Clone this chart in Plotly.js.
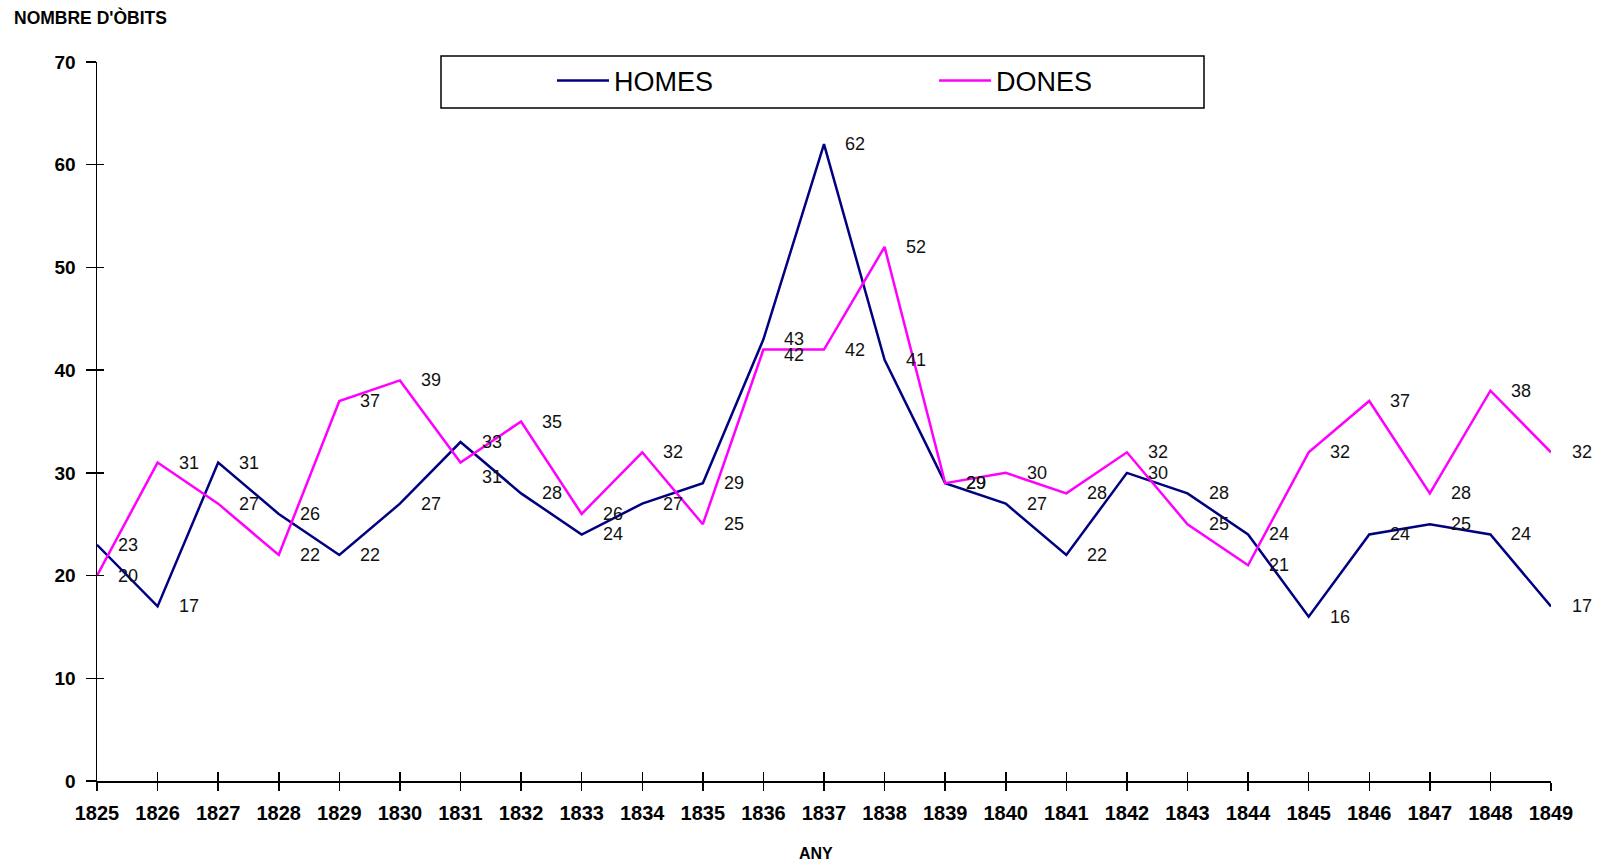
<!DOCTYPE html>
<html>
<head>
<meta charset="utf-8">
<script src="https://cdn.plot.ly/plotly-3.0.1.min.js"></script>
<style>html,body{margin:0;padding:0;background:#fff;}#chart{width:1600px;height:865px;}</style>
</head>
<body>
<div id="chart"></div>
<script>
const years = [1825,1826,1827,1828,1829,1830,1831,1832,1833,1834,1835,1836,1837,1838,1839,1840,1841,1842,1843,1844,1845,1846,1847,1848,1849];
const homes = [23,17,31,26,22,27,33,28,24,27,29,43,62,41,29,27,22,30,28,24,16,24,25,24,17];
const dones = [20,31,27,22,37,39,31,35,26,32,25,42,42,52,29,30,28,32,25,21,32,37,28,38,32];
const yTicks = [0,10,20,30,40,50,60,70];
const chartTitle = "NOMBRE D'ÒBITS";
const xTitle = "ANY";

const FONT = "Liberation Sans, Arial, Helvetica, sans-serif";
const L = 97, R = 49, T = 62, B = 84;
const W = 1600 - L - R, H = 865 - T - B;

const traces = [
  {x: years, y: homes, name: 'HOMES', type: 'scatter', mode: 'lines',
   line: {color: '#000080', width: 2.5}, xaxis: 'x', yaxis: 'y'},
  {x: years, y: dones, name: 'DONES', type: 'scatter', mode: 'lines',
   line: {color: '#FF00FF', width: 2.5}, xaxis: 'x2', yaxis: 'y2'}
];

const nudge = {'DONES-1831': -14, 'DONES-1836': -5};
const annotations = [];
[['HOMES', homes], ['DONES', dones]].forEach(([nm, arr]) => {
  arr.forEach((v, i) => {
    annotations.push({x: years[i], y: v, xref: 'x', yref: 'y', text: String(v),
      showarrow: false, xanchor: 'left', yanchor: 'middle', xshift: 19,
      yshift: nudge[nm + '-' + years[i]] || 0,
      font: {family: FONT, size: 18, color: '#111'}});
  });
});
annotations.push({xref: 'paper', yref: 'paper', x: (816 - L) / W, y: -(853 - (865 - B)) / H,
  text: '<b>' + xTitle + '</b>', showarrow: false, xanchor: 'center', yanchor: 'middle',
  font: {family: FONT, size: 16, color: '#000'}});

const axisCommon = {range: [1825, 1849], dtick: 1, tick0: 1825, tickangle: 0, zeroline: false, showgrid: false, fixedrange: true};

const layout = {
  width: 1600, height: 865,
  margin: {l: L, r: R, t: T, b: B, pad: 0},
  paper_bgcolor: '#fff', plot_bgcolor: '#fff',
  showlegend: true,
  title: {text: '<b>' + chartTitle + '</b>', x: 14 / 1600, xanchor: 'left', xref: 'container',
    y: 1 - 18 / 865, yanchor: 'middle', yref: 'container',
    font: {family: FONT, size: 17.5, color: '#000'}},
  xaxis: Object.assign({}, axisCommon, {
    showline: true, linecolor: '#000', linewidth: 1.5,
    ticks: 'outside', ticklen: 8, tickwidth: 1.5, tickcolor: '#000',
    ticklabelstandoff: 5,
    tickfont: {family: FONT, size: 20, color: '#000', weight: 'bold'}
  }),
  xaxis2: Object.assign({}, axisCommon, {
    overlaying: 'x', anchor: 'y2', showline: false,
    ticks: 'inside', ticklen: 9, tickwidth: 1.5, tickcolor: '#000', showticklabels: false
  }),
  yaxis: {range: [0, 70], tickvals: yTicks, zeroline: false, showgrid: false, fixedrange: true,
    showline: true, linecolor: '#000', linewidth: 1.5,
    ticks: 'outside', ticklen: 10, tickwidth: 1.5, tickcolor: '#000',
    ticklabelstandoff: 6,
    tickfont: {family: FONT, size: 19, color: '#000', weight: 'bold'}},
  yaxis2: {range: [0, 70], tickvals: yTicks, zeroline: false, showgrid: false, fixedrange: true,
    overlaying: 'y', anchor: 'x2', side: 'left', showline: false,
    ticks: 'inside', ticklen: 7, tickwidth: 1.5, tickcolor: '#000', showticklabels: false},
  legend: {orientation: 'h', x: (552 - L) / W, xanchor: 'left', y: (865 - B - 81) / H, yanchor: 'middle',
    bgcolor: 'rgba(0,0,0,0)', borderwidth: 0, entrywidth: 315, itemwidth: 52,
    font: {family: FONT, size: 27, color: '#000'}},
  shapes: [{type: 'rect', xref: 'paper', yref: 'paper',
    x0: (441 - L) / W, x1: (1204 - L) / W, y0: (865 - B - 56) / H, y1: (865 - B - 108) / H,
    line: {color: '#000', width: 1.5}, fillcolor: 'rgba(0,0,0,0)', layer: 'above'}],
  annotations: annotations
};

Plotly.newPlot('chart', traces, layout, {displayModeBar: false, staticPlot: true});
</script>
</body>
</html>
